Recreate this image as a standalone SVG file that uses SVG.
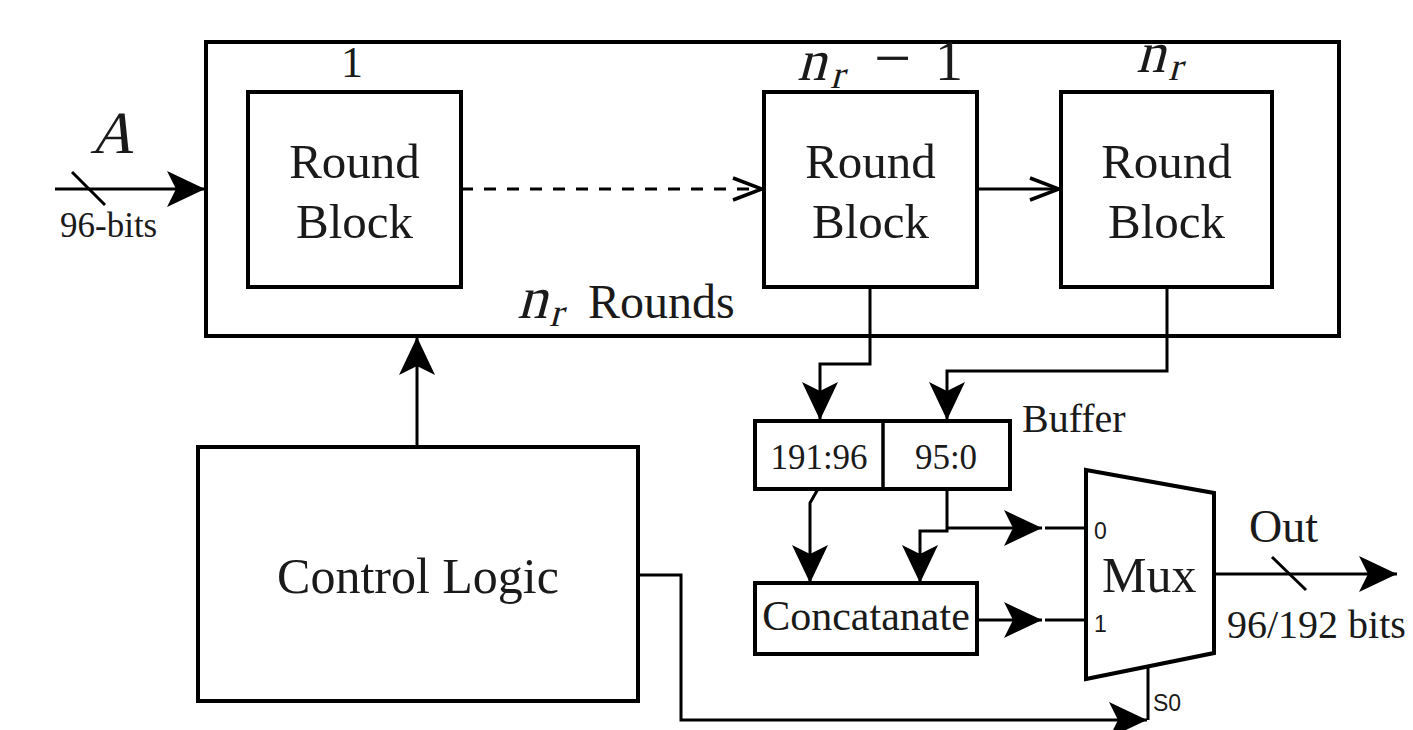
<svg xmlns="http://www.w3.org/2000/svg" width="1413" height="730" viewBox="0 0 1413 730">
  <style>
    .box { fill: #fff; stroke: #000; stroke-width: 4; }
    .wire { fill: none; stroke: #000; stroke-width: 3; }
    .serif { font-family: "Liberation Serif", "Times New Roman", serif; fill: #1a1a1a; }
    .sans { font-family: "Liberation Sans", Arial, sans-serif; fill: #1a1a1a; }
  </style>
  <defs>
    <marker id="tri" markerUnits="userSpaceOnUse" markerWidth="40" markerHeight="40" viewBox="0 -20 40 40" refX="38" refY="0" orient="auto">
      <path d="M0,-18 L38,0 L0,18 L9,0 Z" fill="#000"/>
    </marker>
    <marker id="open" markerUnits="userSpaceOnUse" markerWidth="36" markerHeight="30" viewBox="0 -15 36 30" refX="33" refY="0" orient="auto">
      <path d="M3,-11 L32,0 L3,11" fill="none" stroke="#000" stroke-width="3.5"/>
    </marker>
  </defs>

  <!-- round pipeline container; math symbols are slanted serif glyphs -->
  <g id="rounds">
    <rect class="box" x="206" y="42" width="1133" height="294"/>
    <text class="serif" transform="translate(517,318) skewX(-15)" font-size="60">n</text>
    <text class="serif" transform="translate(549,326) skewX(-15)" font-size="40">r</text>
    <text class="serif" x="588" y="318" font-size="48">Rounds</text>
  </g>

  <g id="round1">
    <rect class="box" x="248" y="92" width="213" height="195"/>
    <text class="serif" x="354.5" y="178" font-size="49" text-anchor="middle">Round</text>
    <text class="serif" x="354.5" y="238" font-size="49" text-anchor="middle">Block</text>
    <text class="serif" x="352" y="77" font-size="44" text-anchor="middle">1</text>
  </g>

  <g id="roundNm1">
    <rect class="box" x="764" y="92" width="213" height="195"/>
    <text class="serif" x="870.5" y="178" font-size="49" text-anchor="middle">Round</text>
    <text class="serif" x="870.5" y="238" font-size="49" text-anchor="middle">Block</text>
    <text class="serif" transform="translate(797,80) skewX(-15)" font-size="58">n</text>
    <text class="serif" transform="translate(830,88) skewX(-15)" font-size="40">r</text>
    <text class="serif" x="874" y="80" font-size="66">−</text>
    <text class="serif" x="935" y="80" font-size="56">1</text>
  </g>

  <g id="roundN">
    <rect class="box" x="1061" y="92" width="211" height="195"/>
    <text class="serif" x="1166.5" y="178" font-size="49" text-anchor="middle">Round</text>
    <text class="serif" x="1166.5" y="238" font-size="49" text-anchor="middle">Block</text>
    <text class="serif" transform="translate(1136,72) skewX(-15)" font-size="58">n</text>
    <text class="serif" transform="translate(1168,80) skewX(-15)" font-size="40">r</text>
  </g>

  <g id="input">
    <text class="serif" transform="translate(90,153) skewX(-15)" font-size="60">A</text>
    <text class="serif" x="60" y="237" font-size="35">96-bits</text>
  </g>

  <g id="buffer">
    <rect class="box" x="755" y="421" width="255" height="68" stroke-width="3.5"/>
    <line x1="883" y1="421" x2="883" y2="489" stroke="#000" stroke-width="3.5"/>
    <text class="serif" x="819" y="469" font-size="35" text-anchor="middle">191:96</text>
    <text class="serif" x="946" y="469" font-size="35" text-anchor="middle">95:0</text>
    <text class="serif" x="1022" y="432" font-size="40">Buffer</text>
  </g>

  <g id="concat">
    <rect class="box" x="755" y="583" width="222" height="71" stroke-width="3.5"/>
    <text class="serif" x="866" y="630" font-size="42" text-anchor="middle">Concatanate</text>
  </g>

  <g id="mux">
    <polygon class="box" points="1086,470 1214,493 1214,653 1086,679" stroke-width="3.5"/>
    <path class="wire" d="M1045,528 H1086 M1045,620 H1086 M1148,667 V720"/>
    <text class="serif" x="1102" y="592" font-size="50">Mux</text>
    <text class="sans" x="1094" y="539" font-size="23">0</text>
    <text class="sans" x="1094" y="632" font-size="23">1</text>
    <text class="sans" x="1153" y="711" font-size="23">S0</text>
  </g>

  <g id="output">
    <text class="serif" x="1249" y="542" font-size="46">Out</text>
    <text class="serif" x="1227" y="638" font-size="40">96/192 bits</text>
  </g>

  <g id="control">
    <rect class="box" x="198" y="447" width="440" height="254"/>
    <text class="serif" x="418" y="593" font-size="50" text-anchor="middle">Control Logic</text>
  </g>

  <!-- connectors -->
  <g id="connectors" class="wire">
    <path d="M55,189 H205" marker-end="url(#tri)"/>
    <line x1="72" y1="172" x2="105" y2="205"/>
    <path d="M461,189 H763" stroke-dasharray="12 11" marker-end="url(#open)"/>
    <path d="M977,189 H1060" marker-end="url(#open)"/>
    <path d="M870,287 V364 H820 V420" marker-end="url(#tri)"/>
    <path d="M1167,287 V371 H947 V420" marker-end="url(#tri)"/>
    <path d="M818,489 L810,503 V583" marker-end="url(#tri)"/>
    <path d="M947,489 V531 H920 V583" marker-end="url(#tri)"/>
    <path d="M947,528 H1042" marker-end="url(#tri)"/>
    <path d="M977,620 H1042" marker-end="url(#tri)"/>
    <path d="M1214,574 H1397" marker-end="url(#tri)"/>
    <line x1="1272" y1="557" x2="1306" y2="590"/>
    <path d="M417,447 V337" marker-end="url(#tri)"/>
    <path d="M638,575 H681 V720 H1147" marker-end="url(#tri)"/>
  </g>
</svg>
